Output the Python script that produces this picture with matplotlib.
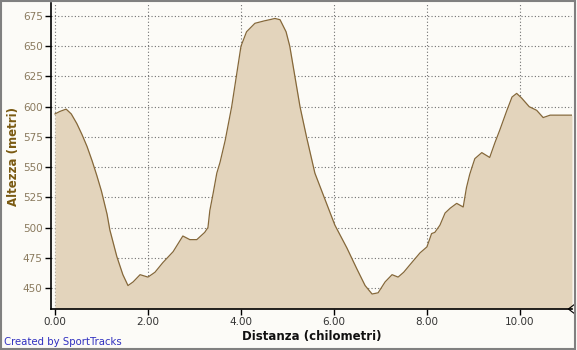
import matplotlib
matplotlib.use("Agg")
import matplotlib.pyplot as plt
from matplotlib.patches import Rectangle

# profilo altimetrico (km, metri)
dist = [0.00, 0.10, 0.24, 0.35, 0.47, 0.58, 0.69, 0.80, 0.90, 1.00, 1.12, 1.18, 1.33,
        1.46, 1.57, 1.68, 1.83, 2.00, 2.15, 2.32, 2.54, 2.75, 2.90, 3.05, 3.22,
        3.29, 3.33, 3.40, 3.48, 3.55, 3.66, 3.80, 3.90, 4.00, 4.12, 4.30, 4.50,
        4.62, 4.73, 4.84, 4.97, 5.05, 5.16, 5.27, 5.41, 5.59, 5.80, 6.02, 6.28,
        6.49, 6.67, 6.82, 6.95, 7.10, 7.25, 7.38, 7.50, 7.63, 7.85, 8.00, 8.10,
        8.17, 8.28, 8.39, 8.50, 8.64, 8.78, 8.85, 8.92, 8.97, 9.03, 9.18, 9.35,
        9.46, 9.57, 9.72, 9.83, 9.93, 10.04, 10.20, 10.36, 10.50, 10.65, 10.86,
        11.12]
alt = [594, 596, 598, 594, 586, 577, 567, 555, 543, 530, 511, 498, 476,
       461, 452, 455, 461, 459, 463, 471, 480, 493, 490, 490, 496,
       500, 514, 528, 545, 554, 572, 600, 625, 650, 662, 669, 671,
       672, 673, 672, 662, 650, 625, 600, 575, 545, 524, 502, 483,
       466, 452, 445, 446, 455, 461, 459, 463, 469, 479, 484, 495,
       496, 502, 512, 516, 520, 517, 533, 544, 550, 557, 562, 558,
       570, 581, 597, 608, 611, 607, 600, 597, 591, 593, 593,
       593]

xticks = [0, 2, 4, 6, 8, 10]
xticklabels = ["0.00", "2.00", "4.00", "6.00", "8.00", "10.00"]
yticks = [450, 475, 500, 525, 550, 575, 600, 625, 650, 675]

bg = "#fcfbf7"
fig = plt.figure(figsize=(5.77, 3.5), dpi=100, facecolor=bg)
ax = fig.add_axes([51/577, 41/350, 521/577, 306/350], facecolor=bg)

ax.fill_between(dist, alt, 432.6, color="#e3d4bc", lw=0, zorder=2)
ax.plot(dist, alt, color="#85683a", lw=0.9, zorder=3)

ax.set_xlim(-0.086, 11.12)
ax.set_ylim(432.6, 685.8)
ax.set_xticks(xticks)
ax.set_xticklabels(xticklabels)
ax.set_yticks(yticks)
ax.grid(True, color="#707070", linestyle=(0, (1, 2)), lw=0.8, zorder=1)

for s in ["top", "right"]:
    ax.spines[s].set_visible(False)
ax.spines["left"].set_linewidth(1.2)
ax.spines["bottom"].set_linewidth(1.2)

ax.tick_params(axis="y", direction="out", length=4, width=1, labelsize=7.5,
               labelcolor="#8a7a5e", pad=2)
ax.tick_params(axis="x", direction="out", length=4, width=1, labelsize=7.5,
               labelcolor="#333333", pad=2)

ax.set_xlabel("Distanza (chilometri)", fontsize=8.5, fontweight="bold",
              color="#111111", labelpad=2)
ax.set_ylabel("Altezza (metri)", fontsize=8.5, fontweight="bold",
              color="#7a5a12", labelpad=2)

# segno "<" a fine asse x
ax.plot([1.004, 0.993, 1.004], [0.014, 0.0, -0.014], transform=ax.transAxes,
        color="black", lw=0.8, clip_on=False, zorder=5)

fig.text(4/577, 1 - 342/350, "Created by SportTracks", fontsize=7.3,
         color="#3030c0", va="center", ha="left")

# bordo grigio
fig.patches.append(Rectangle((0.001, 0.003), 0.995, 0.994, transform=fig.transFigure,
                             fill=False, edgecolor="#808080", lw=1.5))

fig.savefig("out.png", dpi=100, facecolor=bg)
